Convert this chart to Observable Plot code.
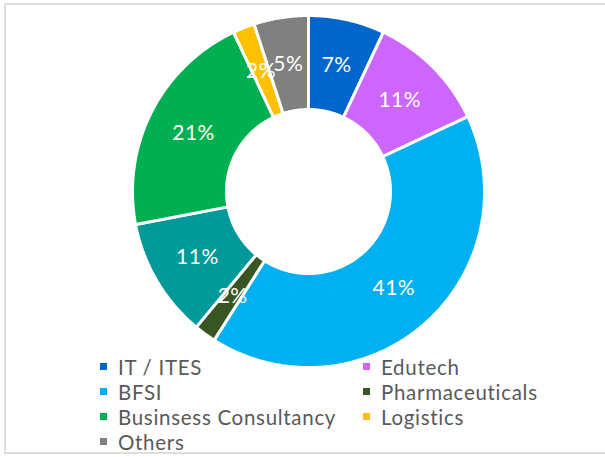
<!DOCTYPE html>
<html>
<head>
<meta charset="utf-8">
<script src="https://cdn.jsdelivr.net/npm/d3@7"></script>
<script src="https://cdn.jsdelivr.net/npm/@observablehq/plot@0.6"></script>
<style>
  html, body { margin: 0; padding: 0; background: #fff; }
  #wrap { position: relative; width: 605px; height: 457px; overflow: hidden; font-family: Lato, "Open Sans", sans-serif; }
  #frame { position: absolute; left: 4px; top: 3px; width: 620px; height: 451px; border: 2px solid #dedede; border-right: none; box-sizing: border-box; pointer-events: none; }
  #chart { position: absolute; left: 0; top: 0; }
  #legend { position: absolute; left: 100px; top: 354px; display: grid; grid-template-columns: 263px auto; grid-auto-rows: 25px; font-size: 20.5px; letter-spacing: 0.7px; color: #595959; }
  .item { display: flex; align-items: center; white-space: nowrap; }
  .sw { width: 7px; height: 7px; margin-right: 11px; flex: none; }
</style>
</head>
<body>
<div id="wrap">
  <div id="chart"></div>
  <div id="legend"></div>
  <div id="frame"></div>
</div>
<script>
// Slices, clockwise from 12 o'clock
const categories = ["IT / ITES", "Edutech", "BFSI", "Pharmaceuticals", "", "Businsess Consultancy", "Logistics", "Others"];
const shares = [7, 11, 41, 2, 11, 21, 2, 5];
const colors = ["#0066CC", "#CC66FF", "#00B0F0", "#375623", "#009999", "#00B050", "#FFC000", "#808080"];
const labels = ["7%", "11%", "41%", "2%", "11%", "21%", "2%", "5%"];
// Legend order (row-major, two columns)
const legendOrder = ["IT / ITES", "Edutech", "BFSI", "Pharmaceuticals", "Businsess Consultancy", "Logistics", "Others"];

const innerRatio = 0.466;
const total = d3.sum(shares);
let cum = 0;
const slices = shares.map((v, i) => {
  const a0 = cum / total * 2 * Math.PI;
  cum += v;
  const a1 = cum / total * 2 * Math.PI;
  return {name: categories[i] || "(unlabelled)", idx: i, value: v, a0, a1, color: colors[i], label: labels[i]};
});

// Polygon outline of each ring sector, derived from the values
const pts = [];
for (const s of slices) {
  const n = Math.max(4, Math.ceil((s.a1 - s.a0) / 0.01));
  for (let k = 0; k <= n; k++) {
    const a = s.a0 + (s.a1 - s.a0) * k / n;
    pts.push({idx: s.idx, color: s.color, x: Math.sin(a), y: Math.cos(a)});
  }
  for (let k = n; k >= 0; k--) {
    const a = s.a0 + (s.a1 - s.a0) * k / n;
    pts.push({idx: s.idx, color: s.color, x: innerRatio * Math.sin(a), y: innerRatio * Math.cos(a)});
  }
}
const mid = (1 + innerRatio) / 2;
const labelPts = slices.map(s => {
  const a = (s.a0 + s.a1) / 2;
  return {x: mid * Math.sin(a), y: mid * Math.cos(a), label: s.label};
});

const chart = Plot.plot({
  width: 605,
  height: 457,
  margin: 0,
  style: {fontFamily: "Lato, 'Open Sans', sans-serif", background: "transparent", letterSpacing: "0.5px"},
  x: {domain: [-1, 1], range: [132, 484], axis: null},
  y: {domain: [-1, 1], range: [367, 15], axis: null},
  marks: [
    Plot.line(pts, {x: "x", y: "y", z: "idx", fill: "color", stroke: "white", strokeWidth: 3, curve: "linear-closed", strokeLinejoin: "miter"}),
    Plot.text(labelPts, {x: "x", y: "y", text: "label", fill: "white", fontSize: 21})
  ]
});
document.getElementById("chart").appendChild(chart);

const legend = document.getElementById("legend");
for (const name of legendOrder) {
  const i = categories.indexOf(name);
  const item = document.createElement("div");
  item.className = "item";
  const sw = document.createElement("span");
  sw.className = "sw";
  sw.style.background = colors[i];
  const t = document.createElement("span");
  t.textContent = name;
  item.appendChild(sw);
  item.appendChild(t);
  legend.appendChild(item);
}
</script>
</body>
</html>
